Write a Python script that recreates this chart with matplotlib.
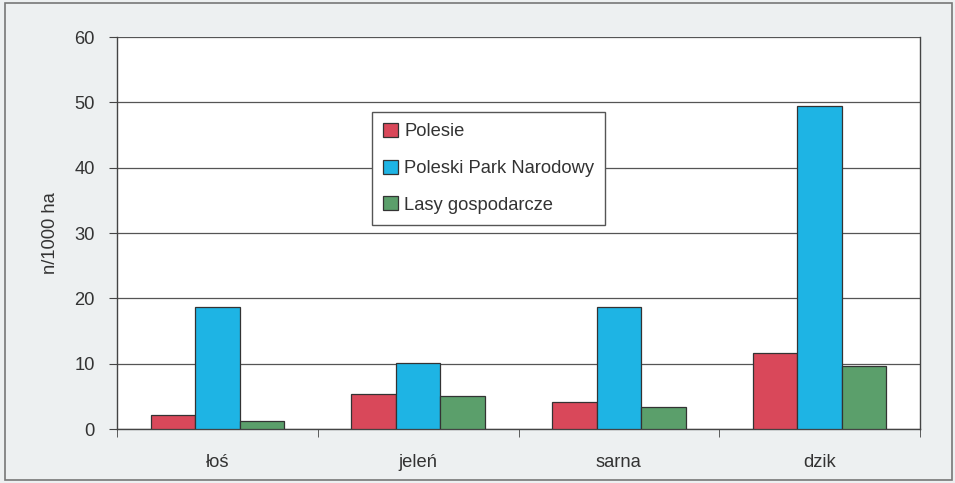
import numpy as np
import matplotlib.pyplot as plt
from matplotlib.patches import Rectangle

plt.rcParams['font.family'] = ['Liberation Sans', 'DejaVu Sans']

# Data
categories = ['łoś', 'jeleń', 'sarna', 'dzik']
series_names = ['Polesie', 'Poleski Park Narodowy', 'Lasy gospodarcze']
polesie = [2.1, 5.3, 4.1, 11.6]
ppn = [18.6, 10.1, 18.7, 49.4]
lasy = [1.2, 5.0, 3.3, 9.7]
colors = ['#d9485a', '#1eb4e4', '#5b9f6b']

fig = plt.figure(figsize=(9.55, 4.83), dpi=100)
fig.patch.set_facecolor('#edf0f1')
fig.patches.append(Rectangle((5 / 955, 3 / 483), 947 / 955, 477 / 483,
                             transform=fig.transFigure, fill=False,
                             edgecolor='#777777', linewidth=1.2))

ax = fig.add_axes([117 / 955, 1 - 429 / 483, (920 - 117) / 955, (429 - 37) / 483])
ax.set_facecolor('white')

x = np.arange(len(categories))
w = 0.222
for i, (vals, name) in enumerate(zip([polesie, ppn, lasy], series_names)):
    ax.bar(x + (i - 1) * w, vals, w, color=colors[i], edgecolor='#333333',
           linewidth=0.9, label=name, zorder=3)

fs = 13.2
ax.set_xlim(-0.5, len(categories) - 0.5)
ax.set_ylim(0, 60)
ax.set_yticks(range(0, 61, 10))
ax.set_xticks(x)
ax.set_xticklabels(categories)
ax.set_xticks(np.arange(-0.5, len(categories), 1), minor=True)
ax.tick_params(axis='x', which='major', length=0, pad=18, labelsize=fs, colors='#333333')
ax.tick_params(axis='x', which='minor', length=6, direction='out', color='#444444')
ax.tick_params(axis='y', length=6, direction='out', labelsize=fs, pad=10,
               color='#444444', labelcolor='#333333')
ax.grid(axis='y', color='#555555', linewidth=0.9, zorder=0)
for s in ax.spines.values():
    s.set_color('#444444')
    s.set_linewidth(1.0)
ax.spines['top'].set_visible(False)
ax.set_ylabel('n/1000 ha', fontsize=fs, color='#333333', labelpad=11)

leg = ax.legend(loc='upper left', bbox_to_anchor=((372 - 117) / 803, (429 - 112) / 392),
                fontsize=fs, frameon=True, fancybox=False, edgecolor='#555555',
                framealpha=1, handlelength=0.8, handleheight=0.8, handletextpad=0.35,
                labelspacing=1.05, borderpad=0.6, borderaxespad=0)
leg.get_frame().set_linewidth(1.0)
for t in leg.get_texts():
    t.set_color('#333333')

fig.savefig('out.png', dpi=100, facecolor=fig.get_facecolor())
